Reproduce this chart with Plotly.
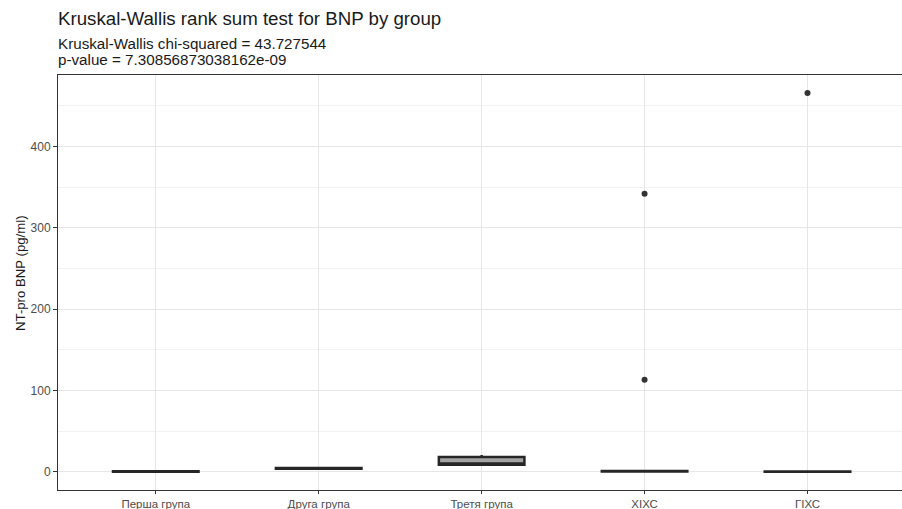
import plotly.graph_objects as go

categories = ["Перша група", "Друга група", "Третя група", "ХІХС", "ГІХС"]
lower_fence = [0.0, 3.2, 7.0, 0.05, 0.0]
q1_vals = [0.1, 3.6, 8.6, 0.2, 0.1]
median_vals = [0.3, 4.1, 10.0, 0.5, 0.2]
q3_vals = [0.6, 4.7, 18.0, 1.0, 0.4]
upper_fence = [0.9, 5.2, 20.5, 1.6, 0.7]

outlier_groups = ["ХІХС", "ХІХС", "ГІХС"]
outlier_values = [342, 113, 466]

title_text = "Kruskal-Wallis rank sum test for BNP by group"
subtitle_lines = ["Kruskal-Wallis chi-squared = 43.727544", "p-value = 7.30856873038162e-09"]
y_title = "NT-pro BNP (pg/ml)"
y_ticks = [0, 100, 200, 300, 400]

FONT = "Liberation Sans, Arial, sans-serif"

fig = go.Figure()
fig.add_trace(go.Box(
    x=categories,
    q1=q1_vals, median=median_vals, q3=q3_vals,
    lowerfence=lower_fence, upperfence=upper_fence,
    fillcolor="#a3a3a3",
    line=dict(color="#262626", width=2.5),
    whiskerwidth=0,
    boxpoints=False,
    showlegend=False,
    hoverinfo="skip",
))
fig.add_trace(go.Scatter(
    x=outlier_groups, y=outlier_values, mode="markers",
    marker=dict(color="#333333", size=6),
    showlegend=False,
))

fig.update_layout(
    width=902, height=509,
    margin=dict(l=58, r=0, t=75, b=19),
    paper_bgcolor="white", plot_bgcolor="white",
    boxgap=0.25,
    font=dict(family=FONT, color="#1a1a1a"),
    showlegend=False,
)
fig.add_annotation(text=title_text, xref="paper", yref="paper", x=0, y=1,
                   xanchor="left", yanchor="middle", yshift=57, xshift=-2, showarrow=False,
                   font=dict(size=18.7, color="#1a1a1a", family=FONT))
fig.add_annotation(text=subtitle_lines[0], xref="paper", yref="paper", x=0, y=1,
                   xanchor="left", yanchor="middle", yshift=32, xshift=-2, showarrow=False,
                   font=dict(size=15.2, color="#1a1a1a", family=FONT))
fig.add_annotation(text=subtitle_lines[1], xref="paper", yref="paper", x=0, y=1,
                   xanchor="left", yanchor="middle", yshift=16, xshift=-2, showarrow=False,
                   font=dict(size=15.2, color="#1a1a1a", family=FONT))
fig.add_annotation(text=y_title, xref="paper", yref="paper", x=0, y=0.523,
                   xanchor="center", yanchor="middle", xshift=-37, textangle=-90,
                   showarrow=False, font=dict(size=13.2, color="#1a1a1a", family=FONT))

fig.update_xaxes(
    type="category", categoryorder="array", categoryarray=categories,
    range=[-0.6, 4.58],
    showgrid=True, gridcolor="#e6e6e6", gridwidth=1,
    showline=True, linecolor="#333333", linewidth=1, mirror=True,
    ticks="outside", ticklen=3, tickcolor="#333333",
    tickfont=dict(size=11.5, color="#4d4d4d", family=FONT),
    zeroline=False, automargin=False,
)
fig.update_yaxes(
    range=[-22.5, 488],
    tickvals=y_ticks,
    showgrid=True, gridcolor="#e6e6e6", gridwidth=1,
    minor=dict(dtick=50, tick0=0, showgrid=True, gridcolor="#f2f2f2", gridwidth=0.6),
    showline=True, linecolor="#333333", linewidth=1, mirror=False,
    ticks="outside", ticklen=4, tickcolor="#333333",
    tickfont=dict(size=12, color="#4d4d4d", family=FONT),
    zeroline=False, automargin=False,
)

fig.write_html("out.html", config={"displayModeBar": False},
               post_script="document.body.style.margin='0px';document.body.style.overflow='hidden';")
